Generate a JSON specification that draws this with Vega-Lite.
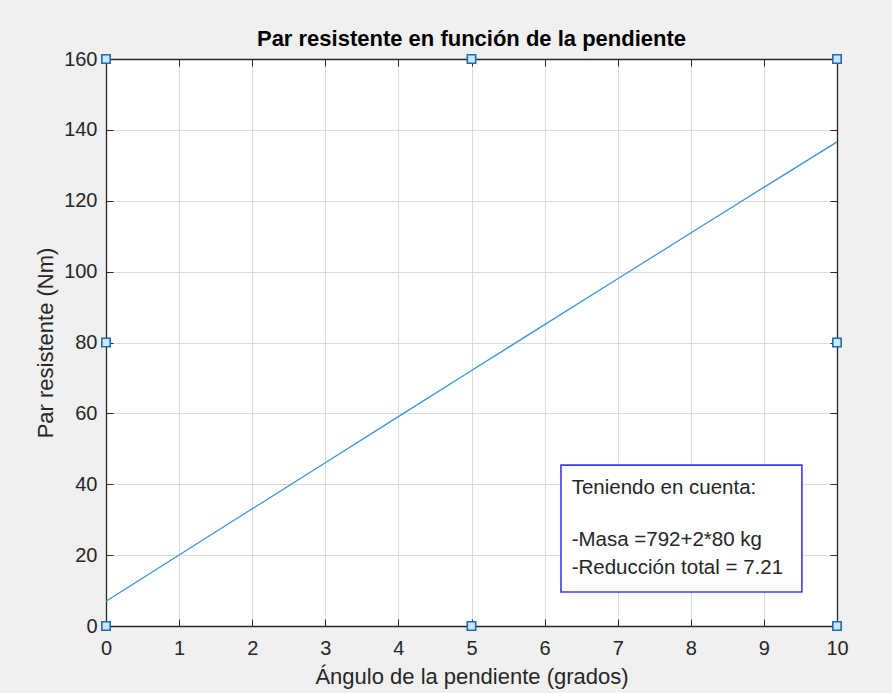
{
  "$schema": "https://vega.github.io/schema/vega-lite/v6.json",
  "width": 731,
  "height": 567,
  "autosize": {"type": "none"},
  "padding": {"left": 106, "top": 59, "right": 55, "bottom": 67},
  "background": "#f0f0f0",
  "config": {
    "font": "Liberation Sans",
    "view": {"fill": "white", "stroke": "#262626", "strokeWidth": 1}
  },
  "title": {
    "text": "Par resistente en función de la pendiente",
    "fontSize": 22,
    "fontWeight": "bold",
    "color": "#000000",
    "font": "Liberation Sans",
    "offset": -2
  },
  "datasets": {
    "par": [
      {"angulo": 0, "par": 7.0},
      {"angulo": 1, "par": 20.04},
      {"angulo": 2, "par": 33.07},
      {"angulo": 3, "par": 46.08},
      {"angulo": 4, "par": 59.09},
      {"angulo": 5, "par": 72.08},
      {"angulo": 6, "par": 85.04},
      {"angulo": 7, "par": 97.99},
      {"angulo": 8, "par": 110.89},
      {"angulo": 9, "par": 123.77},
      {"angulo": 10, "par": 136.61}
    ],
    "handles": [
      {"angulo": 0, "par": 0},
      {"angulo": 5, "par": 0},
      {"angulo": 10, "par": 0},
      {"angulo": 0, "par": 80},
      {"angulo": 10, "par": 80},
      {"angulo": 0, "par": 160},
      {"angulo": 5, "par": 160},
      {"angulo": 10, "par": 160}
    ],
    "caja": [
      {"x1": 6.224, "x2": 9.52, "y1": 9.6, "y2": 45.4}
    ],
    "nota": [
      {"x": 6.37, "y": 38.9, "texto": "Teniendo en cuenta:"},
      {"x": 6.37, "y": 24.3, "texto": "-Masa =792+2*80 kg"},
      {"x": 6.37, "y": 16.5, "texto": "-Reducción total = 7.21"}
    ]
  },
  "layer": [
    {
      "data": {"name": "par"},
      "mark": {"type": "line", "color": "#3a95d8", "strokeWidth": 1.3, "clip": true},
      "encoding": {
        "x": {
          "field": "angulo",
          "type": "quantitative",
          "scale": {"domain": [0, 10], "nice": false, "zero": false},
          "axis": {
            "orient": "bottom",
            "title": "Ángulo de la pendiente (grados)",
            "values": [0, 1, 2, 3, 4, 5, 6, 7, 8, 9, 10],
            "grid": true,
            "gridColor": "#dcdcdc",
            "gridWidth": 1,
            "domainColor": "#262626",
            "domainWidth": 1.3,
            "tickColor": "#262626",
            "tickSize": -7,
            "tickWidth": 1,
            "labelFontSize": 20,
            "labelColor": "#262626",
            "labelPadding": 19,
            "labelFlush": false,
            "titleFontSize": 22,
            "titleFontWeight": "normal",
            "titleColor": "#262626",
            "titlePadding": 8
          }
        },
        "y": {
          "field": "par",
          "type": "quantitative",
          "scale": {"domain": [0, 160], "nice": false, "zero": false},
          "axis": {
            "orient": "left",
            "title": "Par resistente (Nm)",
            "values": [0, 20, 40, 60, 80, 100, 120, 140, 160],
            "grid": true,
            "gridColor": "#dcdcdc",
            "gridWidth": 1,
            "domainColor": "#262626",
            "domainWidth": 1.3,
            "tickColor": "#262626",
            "tickSize": -7,
            "tickWidth": 1,
            "labelFontSize": 20,
            "labelColor": "#262626",
            "labelPadding": 16,
            "labelFlush": false,
            "titleFontSize": 22,
            "titleFontWeight": "normal",
            "titleColor": "#262626",
            "titlePadding": 6
          }
        }
      }
    },
    {
      "data": {"name": "caja"},
      "mark": {"type": "rect", "fill": "white", "stroke": "#3a3af5", "strokeWidth": 1.6},
      "encoding": {
        "x": {"field": "x1", "type": "quantitative", "axis": null},
        "x2": {"field": "x2"},
        "y": {"field": "y1", "type": "quantitative", "axis": null},
        "y2": {"field": "y2"}
      }
    },
    {
      "data": {"name": "nota"},
      "mark": {"type": "text", "align": "left", "baseline": "middle", "fontSize": 20.5, "color": "#262626", "font": "Liberation Sans"},
      "encoding": {
        "x": {"field": "x", "type": "quantitative", "axis": null},
        "y": {"field": "y", "type": "quantitative", "axis": null},
        "text": {"field": "texto"}
      }
    },
    {
      "data": {"name": "handles"},
      "mark": {"type": "point", "shape": "square", "filled": true, "size": 70, "fill": "#cfe5f7", "stroke": "#1b6db3", "strokeWidth": 1.6, "opacity": 1},
      "encoding": {
        "x": {
          "field": "angulo",
          "type": "quantitative",
          "axis": {
            "orient": "top",
            "title": null,
            "labels": false,
            "values": [0, 1, 2, 3, 4, 5, 6, 7, 8, 9, 10],
            "grid": false,
            "domainColor": "#262626",
            "domainWidth": 1.3,
            "tickColor": "#262626",
            "tickSize": -7,
            "tickWidth": 1
          }
        },
        "y": {
          "field": "par",
          "type": "quantitative",
          "axis": {
            "orient": "right",
            "title": null,
            "labels": false,
            "values": [0, 20, 40, 60, 80, 100, 120, 140, 160],
            "grid": false,
            "domainColor": "#262626",
            "domainWidth": 1.3,
            "tickColor": "#262626",
            "tickSize": -7,
            "tickWidth": 1
          }
        }
      }
    }
  ],
  "resolve": {"axis": {"x": "independent", "y": "independent"}}
}
